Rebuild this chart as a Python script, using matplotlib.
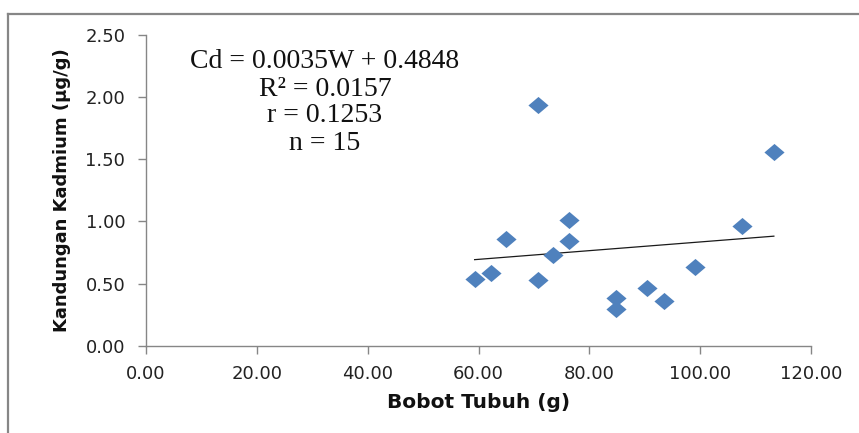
import matplotlib
matplotlib.use("Agg")
import matplotlib.pyplot as plt
from matplotlib.lines import Line2D
import numpy as np

# Data
bobot = [59.3, 62.2, 65.0, 70.8, 70.8, 73.5, 76.4, 76.4, 84.9, 84.9, 90.4, 93.4, 99.0, 107.5, 113.3]
kadmium = [0.534, 0.582, 0.856, 1.934, 0.526, 0.732, 1.011, 0.842, 0.386, 0.298, 0.462, 0.362, 0.631, 0.965, 1.561]
slope = 0.0035
intercept = 0.4848
x_ticks = [0, 20, 40, 60, 80, 100, 120]
y_ticks = [0.0, 0.5, 1.0, 1.5, 2.0, 2.5]
annot_lines = ["Cd = 0.0035W + 0.4848", "R² = 0.0157", "r = 0.1253", "n = 15"]

W, H = 859, 433
fig = plt.figure(figsize=(W / 100, H / 100), dpi=100)
ax = fig.add_axes([146 / W, 1 - 345.7 / H, (811 - 146) / W, (345.7 - 35) / H])

grey = "#868686"
# chart border (outer frame)
fig.add_artist(Line2D([8 / W, 8 / W], [0, 1 - 14 / H], color=grey, lw=1.6, transform=fig.transFigure))
fig.add_artist(Line2D([8 / W, 1], [1 - 14 / H, 1 - 14 / H], color=grey, lw=1.6, transform=fig.transFigure))

diamond = [(-1, 0), (0, 0.85), (1, 0), (0, -0.85), (-1, 0)]
ax.plot(bobot, kadmium, linestyle="none", marker=diamond, markersize=14.5,
        color="#4F81BD", markeredgewidth=0, zorder=3)

xs = np.array([min(bobot), max(bobot)])
ax.plot(xs, slope * xs + intercept, color="#1a1a1a", lw=0.9, zorder=2)

ax.set_xlim(0, 120)
ax.set_ylim(0, 2.5)
ax.set_xticks(x_ticks)
ax.set_xticklabels([f"{v:.2f}" for v in x_ticks])
ax.set_yticks(y_ticks)
ax.set_yticklabels([f"{v:.2f}" for v in y_ticks])

for s in ["top", "right"]:
    ax.spines[s].set_visible(False)
for s in ["left", "bottom"]:
    ax.spines[s].set_color(grey)
    ax.spines[s].set_linewidth(1.0)

ax.tick_params(axis="both", direction="out", color=grey, length=6, width=1.0,
               labelsize=13, labelcolor="#222222")
ax.tick_params(axis="y", pad=9)
ax.tick_params(axis="x", pad=8)

ax.set_xlabel("Bobot Tubuh (g)", fontsize=14.5, fontweight="bold", labelpad=7, color="#111111")
ax.set_ylabel("Kandungan Kadmium (µg/g)", fontsize=13, fontweight="bold", labelpad=10, color="#111111")

ys = [62, 89, 116, 143]
for t, yp in zip(annot_lines, ys):
    fig.text(325 / W, 1 - yp / H, t, ha="center", va="center",
             fontsize=20, family="Liberation Serif", color="#111111")

fig.savefig("out.png", dpi=100)
